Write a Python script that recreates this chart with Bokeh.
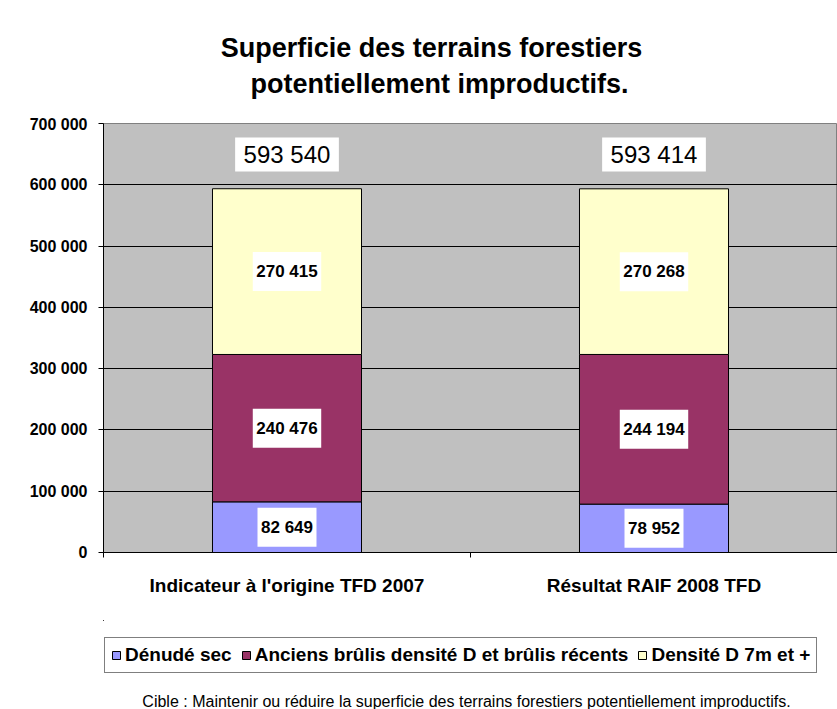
from bokeh.plotting import figure
from bokeh.layouts import column
from bokeh.models import (Range1d, FixedTicker, LinearAxis, Legend, LegendItem,
                          ColumnDataSource, Grid, Label)
from bokeh.embed import file_html
from bokeh.resources import INLINE
from bokeh.core.properties import value

# ---------------- data ----------------
categories = ["Indicateur à l'origine TFD 2007", "Résultat RAIF 2008 TFD"]
series_names = ["Dénudé sec", "Anciens brûlis densité D et brûlis récents", "Densité D 7m et +"]
denude_sec = [82649, 78952]
anciens_brulis = [240476, 244194]
densite_7m = [270415, 270268]
y_ticks = [0, 100000, 200000, 300000, 400000, 500000, 600000, 700000]
y_tick_labels = ["0", "100 000", "200 000", "300 000", "400 000", "500 000", "600 000", "700 000"]
title_lines = ["Superficie des terrains forestiers", "potentiellement improductifs."]
note_text = "Cible : Maintenir ou réduire la superficie des terrains forestiers potentiellement improductifs."
colors = ["#9999FF", "#993366", "#FFFFCC"]

FONT = "Liberation Sans"


def fmt(v):
    return f"{v:,}".replace(",", " ")


series = [denude_sec, anciens_brulis, densite_7m]
keys = ["s0", "s1", "s2"]
xs = [i + 0.5 for i in range(len(categories))]
src = ColumnDataSource(dict(x=xs, **{k: s for k, s in zip(keys, series)}))


def strip(h):
    f = figure(width=837, height=h, x_range=Range1d(2, 3), y_range=Range1d(-2000000, -1000000),
               output_backend="svg", toolbar_location=None,
               x_axis_type=None, y_axis_type=None,
               min_border_left=0, min_border_right=0, min_border_top=0, min_border_bottom=0,
               background_fill_color="white", border_fill_color="white",
               outline_line_color=None)
    f.xgrid.visible = False
    f.ygrid.visible = False
    return f


# ---------------- title strip ----------------
p0 = strip(115)
for ln, xx, yy in zip(title_lines, [328, 336], [68, 32]):
    p0.add_layout(Label(x=xx, y=yy, x_units="screen", y_units="screen", text=ln,
                        text_align="center", text_baseline="alphabetic",
                        text_font=FONT, text_font_style="bold", text_font_size="27px",
                        text_color="black"))

# ---------------- main chart ----------------
p = figure(width=837, height=505,
           x_range=Range1d(0, len(categories)), y_range=Range1d(0, 700000),
           output_backend="svg", toolbar_location=None,
           x_axis_type=None, y_axis_type=None,
           min_border_left=103, min_border_right=0, min_border_top=8, min_border_bottom=68,
           background_fill_color="#C0C0C0", border_fill_color="white",
           outline_line_color="#808080", outline_line_width=1)

# y axis
yaxis = LinearAxis(ticker=FixedTicker(ticks=y_ticks),
                   major_label_overrides={t: l for t, l in zip(y_ticks, y_tick_labels)},
                   axis_line_color="black", major_tick_line_color="black",
                   major_tick_out=5, major_tick_in=0, minor_tick_line_color=None,
                   major_label_standoff=11,
                   major_label_text_font=FONT, major_label_text_font_style="bold",
                   major_label_text_font_size="16px", major_label_text_color="black")
p.add_layout(yaxis, "left")
p.add_layout(Grid(dimension=1, ticker=yaxis.ticker, grid_line_color="black", grid_line_width=1))

# x axis
xaxis = LinearAxis(ticker=FixedTicker(ticks=xs, minor_ticks=list(range(len(categories) + 1))),
                   major_label_overrides={x: c for x, c in zip(xs, categories)},
                   axis_line_color="black", major_tick_line_color=None,
                   minor_tick_line_color="black", minor_tick_out=5, minor_tick_in=0,
                   major_label_standoff=16,
                   major_label_text_font=FONT, major_label_text_font_style="bold",
                   major_label_text_font_size="19px", major_label_text_color="black")
p.add_layout(xaxis, "below")

# bars
p.vbar_stack(keys, x="x", width=0.406, color=colors, line_color="black",
             line_width=1, source=src)

# segment labels
lx, ly, lt, lw = [], [], [], []
for i, x in enumerate(xs):
    bottom = 0
    for s in series:
        v = s[i]
        t = fmt(v)
        lx.append(x)
        ly.append(bottom + v / 2)
        lt.append(t)
        lw.append(17 * (0.556 * sum(ch.isdigit() for ch in t) + 0.278) + 7)
        bottom += v
lab = ColumnDataSource(dict(x=lx, y=ly, text=lt, w=lw))
p.rect(x="x", y="y", width="w", height=39, width_units="screen", height_units="screen",
       fill_color="white", line_color=None, source=lab)
p.text(x="x", y="y", text="text", text_align="center", text_baseline="middle",
       text_font=value(FONT), text_font_style="bold", text_font_size="17px",
       text_color="black", source=lab)

# totals
totals = [sum(s[i] for s in series) for i in range(len(categories))]
total_offset = 56000
tt = [fmt(t) for t in totals]
tot = ColumnDataSource(dict(x=xs, y=[t + total_offset for t in totals], text=tt,
                            w=[24 * (0.556 * sum(ch.isdigit() for ch in t) + 0.278) + 17 for t in tt]))
p.rect(x="x", y="y", width="w", height=34, width_units="screen", height_units="screen",
       fill_color="white", line_color=None, source=tot)
p.text(x="x", y="y", text="text", text_align="center", text_baseline="middle",
       text_font=value(FONT), text_font_size="24px", text_color="black", source=tot)

# ---------------- legend + note strip ----------------
p2 = strip(89)
# same stacked series, outside the visible range: used only as legend swatches
swatches = p2.vbar_stack(keys, x="x", width=0.406, color=colors, line_color="black",
                         line_width=1, source=src)
items = [LegendItem(label=n, renderers=[r]) for n, r in zip(series_names, swatches)]
legend = Legend(items=items, orientation="horizontal", location=(1, 36),
                label_text_font=FONT, label_text_font_style="bold", label_text_font_size="19px",
                label_text_color="black",
                glyph_width=10, glyph_height=10, label_standoff=4, spacing=9, padding=6,
                margin=0, label_height=20,
                border_line_color="black", border_line_width=1,
                background_fill_color="white", background_fill_alpha=1)
p2.add_layout(legend)
p2.add_layout(Label(x=363, y=8, x_units="screen", y_units="screen", text=note_text,
                    text_align="center", text_baseline="alphabetic",
                    text_font=FONT, text_font_size="16px", text_color="black"))

layout = column(p0, p, p2, spacing=0)

open("out.html", "w").write(file_html(layout, INLINE))
